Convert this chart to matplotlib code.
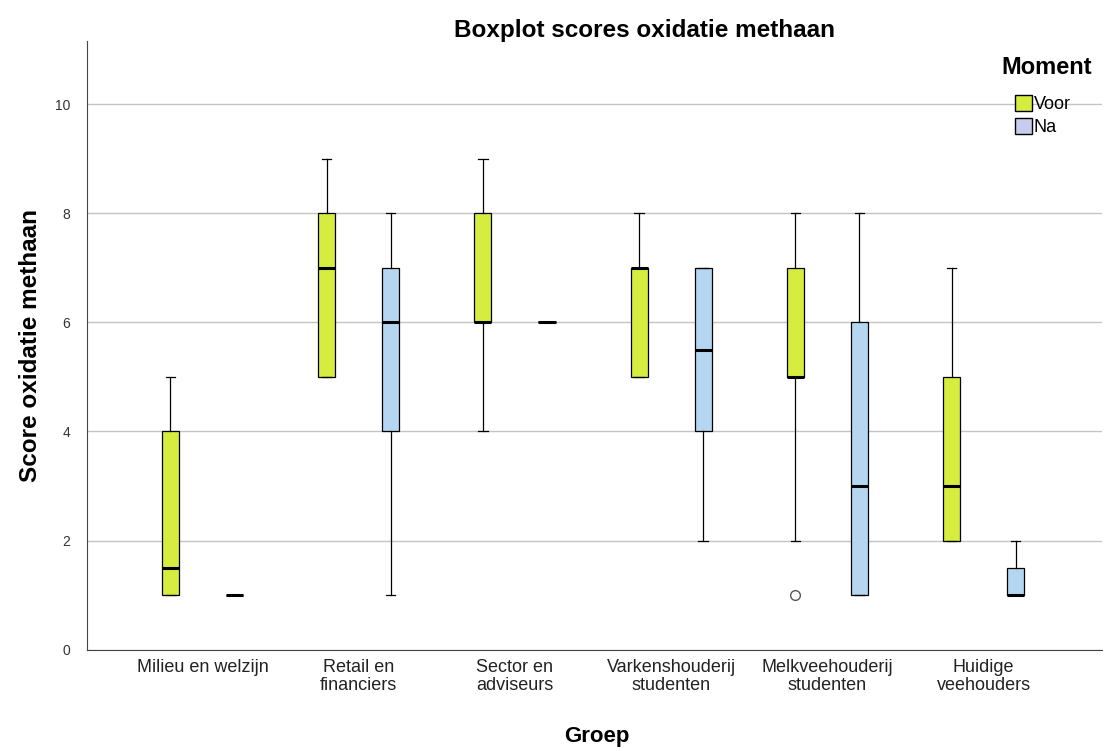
import matplotlib.pyplot as plt
import numpy as np
from matplotlib.patches import Patch

plt.rcParams['font.family'] = ['Liberation Sans', 'DejaVu Sans']

groups = ["Milieu en welzijn", "Retail en\nfinanciers", "Sector en\nadviseurs",
          "Varkenshouderij\nstudenten", "Melkveehouderij\nstudenten", "Huidige\nveehouders"]

# five-number summaries: whislo, q1, med, q3, whishi
voor = [(1, 1, 1.5, 4, 5), (5, 5, 7, 8, 9), (4, 6, 6, 8, 9),
        (5, 5, 7, 7, 8), (2, 5, 5, 7, 8), (2, 2, 3, 5, 7)]
voor_fliers = [[], [], [], [], [1], []]
na = [(1, 1, 1, 1, 1), (1, 4, 6, 7, 8), (6, 6, 6, 6, 6),
      (2, 4, 5.5, 7, 7), (1, 1, 3, 6, 8), (1, 1, 1, 1.5, 2)]
na_fliers = [[], [], [], [], [], []]

voor_color = "#d6ec3e"
na_color = "#b5d6f0"


def stats(vals, fl):
    out = []
    for (lo, q1, med, q3, hi), f in zip(vals, fl):
        out.append(dict(whislo=lo, q1=q1, med=med, q3=q3, whishi=hi, fliers=f))
    return out


fig = plt.figure(figsize=(11.09, 7.51), dpi=100)
ax = fig.add_axes([0.0785, 0.135, 0.915, 0.81])

x = np.arange(len(groups))
off = 0.205
w = 0.11
common = dict(widths=w, patch_artist=True, showfliers=True,
              medianprops=dict(color="black", linewidth=2.2),
              whiskerprops=dict(color="black", linewidth=0.9),
              capprops=dict(color="black", linewidth=0.9),
              boxprops=dict(edgecolor="black", linewidth=0.9),
              flierprops=dict(marker="o", markerfacecolor="none",
                              markeredgecolor="#555555", markersize=7),
              capwidths=0.06)
bv = ax.bxp(stats(voor, voor_fliers), positions=x - off, **common)
bn = ax.bxp(stats(na, na_fliers), positions=x + off, **common)
for p in bv["boxes"]:
    p.set_facecolor(voor_color)
for p in bn["boxes"]:
    p.set_facecolor(na_color)

ax.set_xlim(-0.739, 5.757)
ax.set_ylim(0, 11.15)
ax.set_yticks([0, 2, 4, 6, 8, 10])
ax.set_xticks(x)
ax.set_xticklabels(groups, fontsize=13, color="#222222", linespacing=1.05)
ax.tick_params(axis="y", length=0, labelsize=10, pad=12, labelcolor="#333333")
ax.tick_params(axis="x", length=0, pad=7)
ax.yaxis.grid(True, color="#c4c4c4", linewidth=1)
ax.set_axisbelow(True)
for s in ["top", "right"]:
    ax.spines[s].set_visible(False)
ax.spines["left"].set_color("#444444")
ax.spines["bottom"].set_color("#444444")

fig.text(645 / 1109, 1 - 31 / 751, "Boxplot scores oxidatie methaan", fontsize=17.5,
         fontweight="bold", ha="center", va="center")
ax.set_ylabel("Score oxidatie methaan", fontsize=17.5, fontweight="bold", va="center")
ax.yaxis.set_label_coords(-0.056, 0.5)
ax.set_xlabel("Groep", fontsize=16, fontweight="bold", va="center")
ax.xaxis.set_label_coords(0.502, -0.143)

fig.text(1047 / 1109, 1 - 68 / 751, "Moment", fontsize=17, fontweight="bold",
         ha="center", va="center")
handles = [Patch(facecolor=voor_color, edgecolor="black", label="Voor"),
           Patch(facecolor="#c8cdef", edgecolor="black", label="Na")]
leg = fig.legend(handles=handles, loc="upper left",
                 bbox_to_anchor=(1015 / 1109, 1 - 95 / 751), frameon=False,
                 fontsize=13, handlelength=0.95, handleheight=0.95,
                 handletextpad=0.1, labelspacing=0.3, borderpad=0,
                 borderaxespad=0)

fig.savefig("out.png", dpi=100)
